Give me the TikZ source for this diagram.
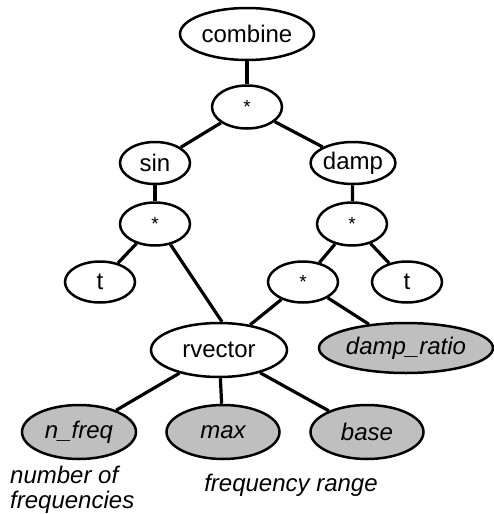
\documentclass[tikz,border=0pt]{standalone}
\usepackage{fontspec}
\setmainfont{Liberation Sans}
\usetikzlibrary{shapes.geometric}
\newcommand{\opstar}{\fontsize{19}{20}\selectfont\raisebox{-0.3em}{*}}
\begin{document}
\begin{tikzpicture}[x=1pt,y=-1pt,
  treenode/.style={ellipse,draw,line width=2.5pt,inner sep=0pt,
    font=\fontsize{24}{26}\selectfont},
  leafnode/.style={treenode,fill=black!25,font=\fontsize{24}{26}\selectfont\itshape},
  opnode/.style={treenode,minimum width=70pt,minimum height=43pt},
  edge/.style={line width=3.2pt},
  note/.style={font=\fontsize{24}{25}\selectfont\itshape,inner sep=0pt}]
\useasboundingbox (0,0) rectangle (493,514);

% interior nodes
\node[treenode,minimum width=134pt,minimum height=52pt] (cb) at (247,34) {combine};
\node[opnode] (mt) at (247,107) {\opstar};
\node[opnode,minimum height=42pt] (sn) at (155,163) {sin};
\node[opnode,minimum height=42pt] (dp) at (353,163) {damp};
\node[opnode] (ml) at (155,224) {\opstar};
\node[opnode] (mr) at (352,224) {\opstar};
\node[opnode,minimum height=41pt] (tl) at (100,282) {t};
\node[opnode,minimum height=41pt] (mm) at (303,282) {\opstar};
\node[opnode,minimum height=41pt] (tr) at (407,282) {t};
\node[treenode,minimum width=136pt,minimum height=54pt] (rv) at (219,350) {rvector};

% terminal nodes
\node[leafnode,minimum width=174pt,minimum height=50pt] (dr) at (406,348) {damp\_ratio};
\node[leafnode,minimum width=114pt,minimum height=54pt] (nf) at (79,432) {n\_freq};
\node[leafnode,minimum width=113pt,minimum height=54pt] (mx) at (223,432) {max};
\node[leafnode,minimum width=113pt,minimum height=54pt] (bs) at (367,432) {base};

% connectors
\draw[edge] (cb) -- (mt);
\draw[edge] (mt) -- (sn);
\draw[edge] (mt) -- (dp);
\draw[edge] (sn) -- (ml);
\draw[edge] (dp) -- (mr);
\draw[edge] (ml) -- (tl);
\draw[edge] (ml.-53) -- (rv.84);
\draw[edge] (mr) -- (mm);
\draw[edge] (mr) -- (tr);
\draw[edge] (mm) -- (rv);
\draw[edge] (mm) -- (dr);
\draw[edge] (rv) -- (nf);
\draw[edge] (rv) -- (mx);
\draw[edge] (rv) -- (bs);

% annotations
\node[note,anchor=west,align=left] (nl) at (10,490) {number of\\frequencies};
\node[note] (fr) at (291,485) {frequency range};
\end{tikzpicture}
\end{document}
